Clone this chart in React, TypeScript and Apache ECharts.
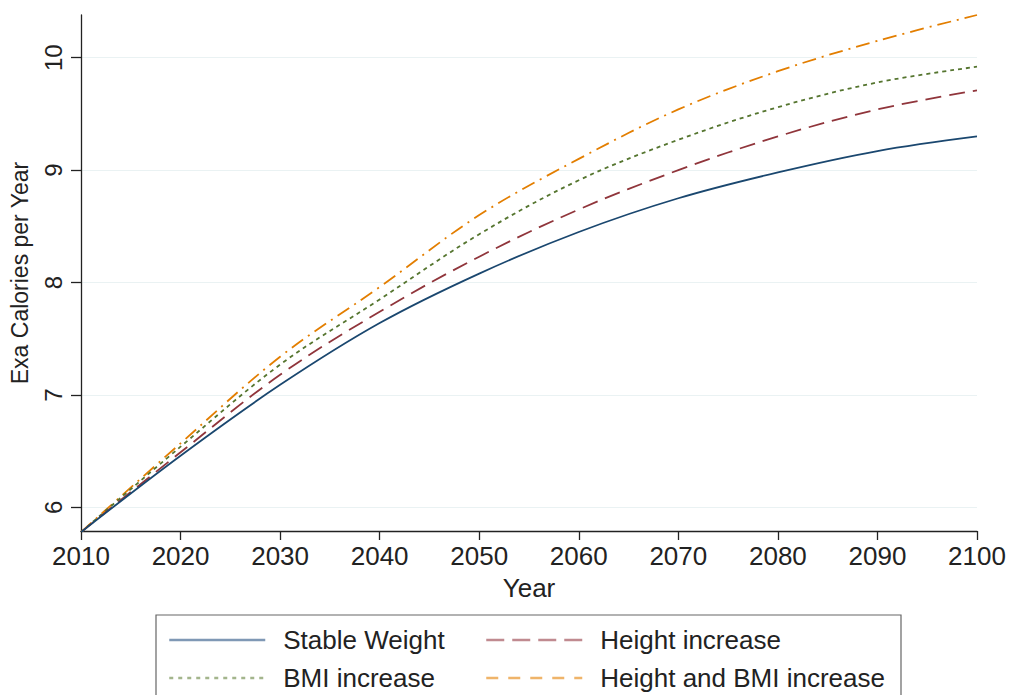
import React, { useEffect, useRef } from "react";
import * as echarts from "echarts";

const years = [2010, 2020, 2030, 2040, 2050, 2060, 2070, 2080, 2090, 2100];
const stableWeight = [5.78, 6.46, 7.09, 7.64, 8.08, 8.45, 8.75, 8.98, 9.17, 9.3];
const heightIncrease = [5.78, 6.49, 7.18, 7.74, 8.23, 8.65, 9.0, 9.3, 9.54, 9.71];
const bmiIncrease = [5.78, 6.54, 7.27, 7.85, 8.43, 8.91, 9.27, 9.56, 9.78, 9.92];
const heightBmiIncrease = [5.78, 6.57, 7.34, 7.96, 8.6, 9.1, 9.54, 9.88, 10.15, 10.38];
const yTicks = [6, 7, 8, 9, 10];
const xTicks = [2010, 2020, 2030, 2040, 2050, 2060, 2070, 2080, 2090, 2100];

const seriesNames = ["Stable Weight", "Height increase", "BMI increase", "Height and BMI increase"];
const seriesColors = ["#1a476f", "#90353b", "#55752f", "#e37e00"];
const legendColors = ["#7f98b5", "#c08a90", "#a3b58c", "#efb46a"];
const seriesDash: any[] = ["solid", [16, 8], [4, 4], [14, 6, 2, 6]];
const legendDash: any[] = ["solid", [18, 8], [4, 5], [12, 10]];
const seriesValues = [stableWeight, heightIncrease, bmiIncrease, heightBmiIncrease];

const FONT = "'Liberation Sans', Arial, sans-serif";

export default function App() {
  const ref = useRef<HTMLDivElement>(null);
  useEffect(() => {
    if (!ref.current) return;
    const chart = echarts.init(ref.current, null, { renderer: "svg" });
    const legendPos = [
      { left: 168, top: 627 },
      { left: 485, top: 627 },
      { left: 168, top: 665 },
      { left: 485, top: 665 },
    ];
    const order = [0, 1, 2, 3];
    chart.setOption({
      animation: false,
      backgroundColor: "#ffffff",
      textStyle: { fontFamily: FONT },
      grid: { left: 80, right: 33, top: 15, bottom: 164, containLabel: false },
      xAxis: {
        type: "value",
        min: 2010,
        max: 2100,
        interval: 10,
        name: "Year",
        nameLocation: "middle",
        nameGap: 44,
        nameTextStyle: { fontSize: 26, color: "#222", fontFamily: FONT },
        axisLine: { show: true, onZero: false, lineStyle: { color: "#222", width: 1.3 } },
        axisTick: { show: true, length: 9, lineStyle: { color: "#222", width: 1.3 }, customValues: xTicks },
        axisLabel: {
          fontSize: 26,
          color: "#222",
          margin: 12,
          fontFamily: FONT,
          customValues: xTicks,
          formatter: (v: number) => String(v),
        },
        splitLine: { show: false },
      },
      yAxis: {
        type: "value",
        min: 5.79,
        max: 10.38,
        name: "Exa Calories per Year",
        nameLocation: "middle",
        nameGap: 50,
        nameTextStyle: { fontSize: 23, color: "#222", fontFamily: FONT },
        axisLine: { show: true, onZero: false, lineStyle: { color: "#222", width: 1.3 } },
        axisTick: { show: true, length: 10, lineStyle: { color: "#222", width: 1.3 }, customValues: yTicks },
        axisLabel: {
          rotate: 90,
          fontSize: 24,
          color: "#222",
          margin: 16,
          fontFamily: FONT,
          customValues: yTicks,
          formatter: (v: number) => String(v),
        },
        splitLine: { show: true, lineStyle: { color: "#eaf2f3", width: 1.2 } },
      },
      legend: order.map((i) => ({
        data: [seriesNames[i]],
        left: legendPos[i].left,
        top: legendPos[i].top,
        orient: "horizontal",
        padding: 0,
        itemWidth: 96,
        itemHeight: 14,
        selectedMode: false,
        itemStyle: { opacity: 0, borderWidth: 0 },
        lineStyle: { color: legendColors[i], width: 2.5, type: legendDash[i] },
        textStyle: { fontSize: 26, color: "#222", fontFamily: FONT, padding: [0, 0, 0, 13] },
      })),
      graphic: [
        {
          type: "rect",
          shape: { x: 156, y: 615, width: 745, height: 100 },
          style: { fill: "none", stroke: "#666", lineWidth: 1.2 },
          silent: true,
        },
      ],
      series: seriesNames.map((name, i) => ({
        name,
        type: "line",
        data: years.map((y, j) => [y, seriesValues[i][j]]),
        smooth: 0.35,
        symbol: "none",
        showSymbol: false,
        lineStyle: { color: seriesColors[i], width: 1.8, type: seriesDash[i] },
        itemStyle: { color: seriesColors[i] },
        z: 10 - i,
      })),
    });
    return () => chart.dispose();
  }, []);
  return (
    <div
      ref={ref}
      style={{ position: "fixed", left: 0, top: 0, width: 1010, height: 695 }}
    />
  );
}
